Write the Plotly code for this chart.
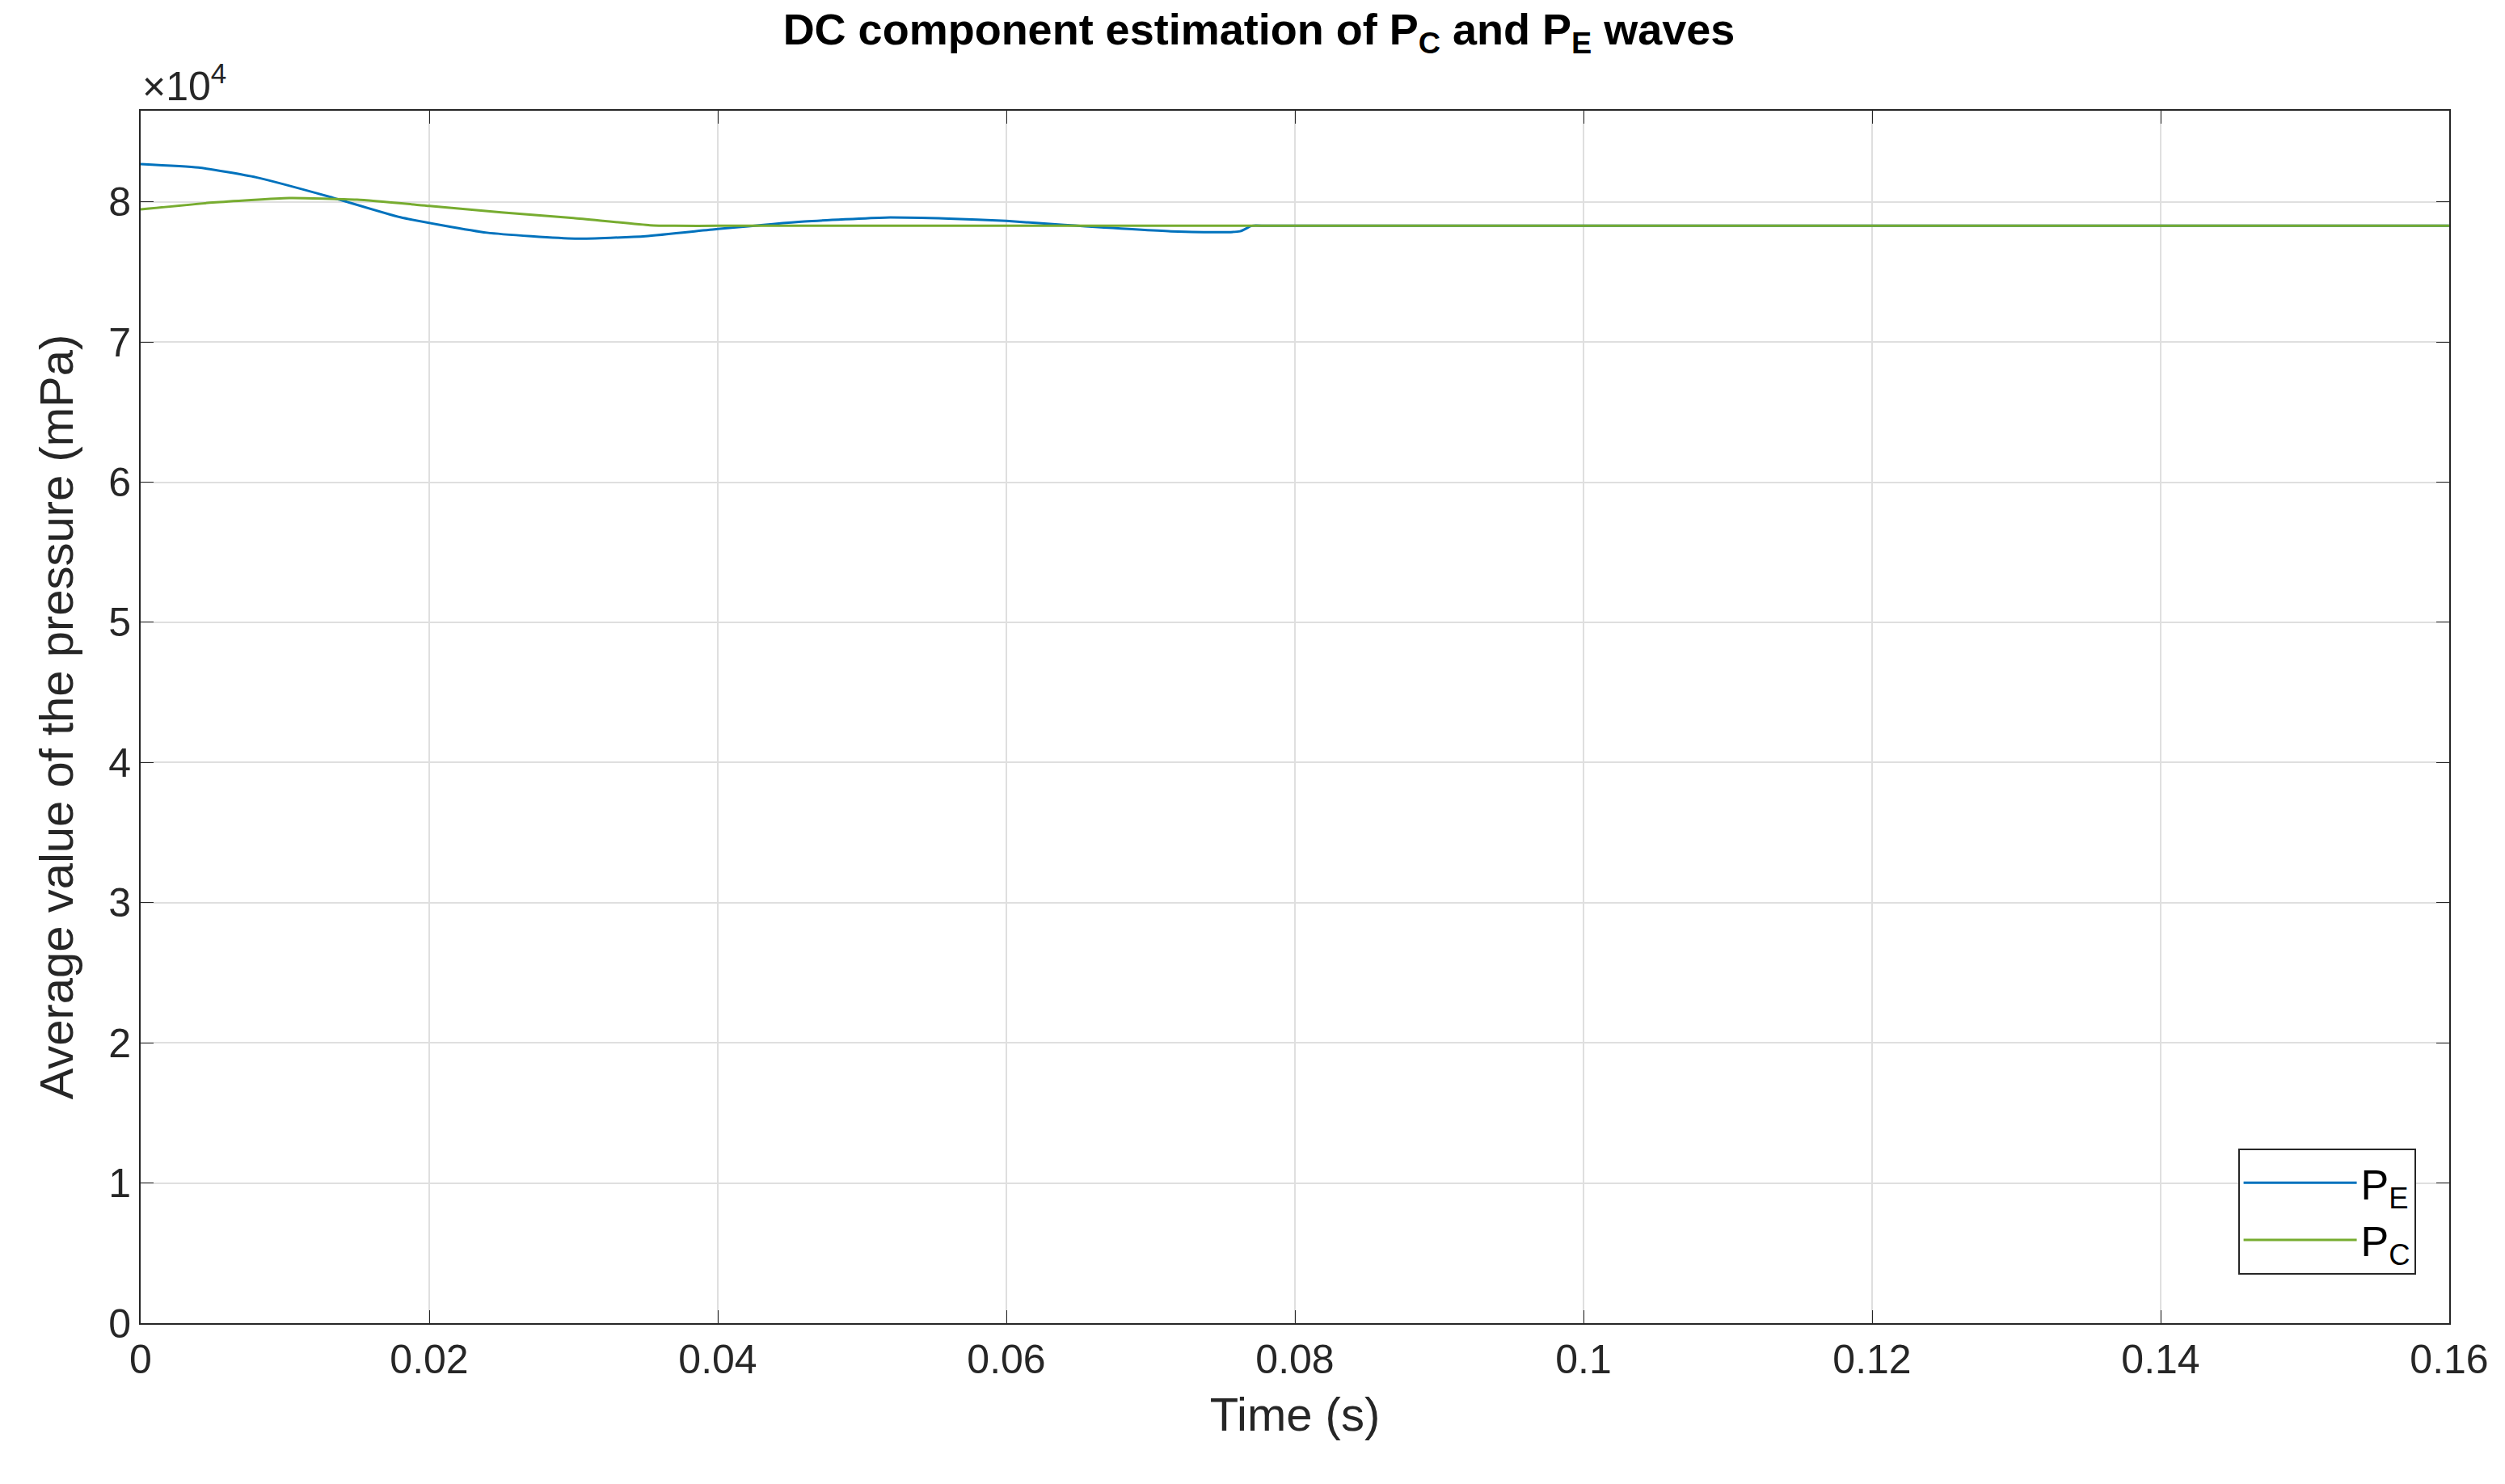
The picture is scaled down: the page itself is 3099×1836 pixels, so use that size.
import plotly.graph_objects as go

t_pe = [0, 0.004, 0.008, 0.013, 0.018, 0.024, 0.0301, 0.035, 0.04, 0.046, 0.0516, 0.056, 0.06, 0.064, 0.0714, 0.0762, 0.077, 0.078, 0.09, 0.12, 0.16]
pe = [82700, 82450, 81750, 80390, 78900, 77800, 77380, 77550, 78060, 78600, 78880, 78800, 78640, 78350, 77900, 77900, 78290, 78290, 78290, 78290, 78290]
t_pc = [0, 0.005, 0.0103, 0.015, 0.02, 0.025, 0.030, 0.0353, 0.037, 0.040, 0.06, 0.1, 0.16]
pc = [79460, 79950, 80270, 80150, 79710, 79250, 78840, 78330, 78290, 78290, 78290, 78290, 78290]

FONT = "Arial, Liberation Sans"
fig = go.Figure()
fig.add_trace(go.Scatter(x=t_pe, y=pe, mode="lines", line=dict(color="#0072BD", width=3, shape="spline", smoothing=0.5), name="P<sub>E</sub>"))
fig.add_trace(go.Scatter(x=t_pc, y=pc, mode="lines", line=dict(color="#77AC30", width=3, shape="spline", smoothing=0.5), name="P<sub>C</sub>"))

ax = dict(showline=True, linecolor="#262626", linewidth=2, mirror="ticks", ticks="inside", ticklen=16,
          tickcolor="#262626", gridcolor="#dfdfdf", gridwidth=2, zeroline=False,
          tickfont=dict(family=FONT, size=50, color="#262626"))
fig.update_xaxes(**ax, range=[0, 0.16], tickvals=[0,0.02,0.04,0.06,0.08,0.1,0.12,0.14,0.16],
                 ticktext=["0","0.02","0.04","0.06","0.08","0.1","0.12","0.14","0.16"],
                 title=dict(text="Time (s)", font=dict(family=FONT, size=58, color="#262626"), standoff=20))
fig.update_yaxes(**ax, range=[0, 86500], tickvals=[i*10000 for i in range(9)], ticktext=[str(i) for i in range(9)],
                 title=dict(text="Average value of the pressure (mPa)", font=dict(family=FONT, size=58, color="#262626"), standoff=25))
fig.update_layout(
    width=3099, height=1836, plot_bgcolor="white", paper_bgcolor="white",
    margin=dict(l=166, r=77, t=129, b=207),
    title=dict(text="<b>DC component estimation of P<sub>C</sub> and P<sub>E</sub> waves</b>", x=0.5, xanchor="center", y=0.995, yanchor="top",
               font=dict(family=FONT, size=54, color="black")),
    legend=dict(x=0.9855, xanchor="right", y=0.04, yanchor="bottom", bordercolor="#262626", borderwidth=2,
                bgcolor="white", font=dict(family=FONT, size=52, color="black"), itemwidth=140, tracegroupgap=10),
    showlegend=True,
    annotations=[dict(text="×10<sup>4</sup>", xref="paper", yref="paper", x=0, y=1.0, xanchor="left", yanchor="bottom",
                      showarrow=False, font=dict(family=FONT, size=50, color="#262626"))],
)
fig.write_html("out.html")
